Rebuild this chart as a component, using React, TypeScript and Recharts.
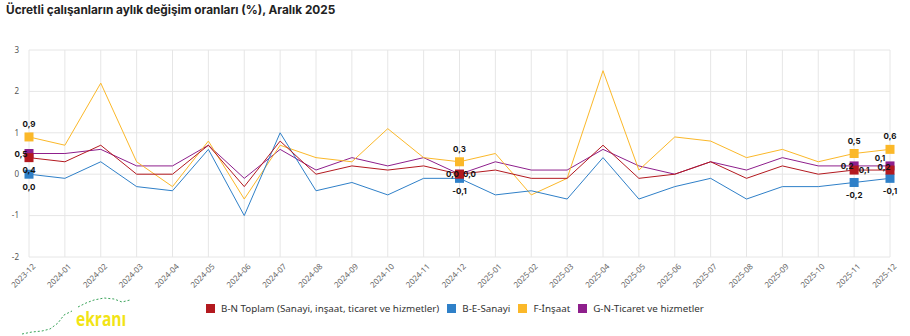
import React from 'react';
import { LineChart, Line, XAxis, YAxis, CartesianGrid, LabelList } from 'recharts';

const months = [
  '2023-12', '2024-01', '2024-02', '2024-03', '2024-04', '2024-05', '2024-06', '2024-07', '2024-08',
  '2024-09', '2024-10', '2024-11', '2024-12', '2025-01', '2025-02', '2025-03', '2025-04', '2025-05',
  '2025-06', '2025-07', '2025-08', '2025-09', '2025-10', '2025-11', '2025-12',
];

const toplam = [0.4, 0.3, 0.7, 0.0, 0.0, 0.7, -0.3, 0.8, 0.0, 0.2, 0.1, 0.2, 0.0, 0.1, -0.1, -0.1, 0.7, -0.1, 0.0, 0.3, -0.1, 0.2, 0.0, 0.1, 0.1];
const sanayi = [0.0, -0.1, 0.3, -0.3, -0.4, 0.6, -1.0, 1.0, -0.4, -0.2, -0.5, -0.1, -0.1, -0.5, -0.4, -0.6, 0.4, -0.6, -0.3, -0.1, -0.6, -0.3, -0.3, -0.2, -0.1];
const insaat = [0.9, 0.7, 2.2, 0.3, -0.3, 0.8, -0.6, 0.7, 0.4, 0.3, 1.1, 0.4, 0.3, 0.5, -0.5, -0.1, 2.5, 0.1, 0.9, 0.8, 0.4, 0.6, 0.3, 0.5, 0.6];
const ticaret = [0.5, 0.5, 0.6, 0.2, 0.2, 0.7, -0.1, 0.6, 0.1, 0.4, 0.2, 0.4, 0.0, 0.3, 0.1, 0.1, 0.6, 0.2, 0.0, 0.3, 0.1, 0.4, 0.2, 0.2, 0.2];

const yTicks = [-2, -1, 0, 1, 2, 3];
const markedIdx = [0, 12, 23, 24];

const data = months.map((m, i) => ({
  month: m,
  toplam: toplam[i],
  sanayi: sanayi[i],
  insaat: insaat[i],
  ticaret: ticaret[i],
}));

const series = [
  { key: 'ticaret', name: 'G-N-Ticaret ve hizmetler', color: '#8e1f8c' },
  { key: 'insaat', name: 'F-İnşaat', color: '#fbb829' },
  { key: 'sanayi', name: 'B-E-Sanayi', color: '#2f80c8' },
  { key: 'toplam', name: 'B-N Toplam (Sanayi, inşaat, ticaret ve hizmetler)', color: '#b3191f' },
];
const legendOrder = ['toplam', 'sanayi', 'insaat', 'ticaret'];

// label offsets for the marked points (roughly where the original puts them)
const labelPos: Record<string, Record<number, [number, number]>> = {
  insaat: { 0: [0, -13], 12: [0, -13], 23: [0, -13], 24: [0, -13] },
  sanayi: { 0: [0, 13], 12: [0, 13], 23: [0, 13], 24: [0, 13] },
  ticaret: { 0: [-8, 0], 12: [10, 0], 23: [-7, 0], 24: [-6, 1] },
  toplam: { 0: [0, 12], 12: [-7, 0], 23: [10, 0], 24: [-10, -12] },
};

const fmt = (v: number) => v.toFixed(1).replace('.', ',');

const SquareDot = (color: string) => (props: any) => {
  const { cx, cy, index } = props;
  if (!markedIdx.includes(index) || cx == null) return <g key={index} />;
  return <rect key={index} x={cx - 4.5} y={cy - 4.5} width={9} height={9} fill={color} />;
};

const renderLabel = (key: string) => (props: any) => {
  const { x, y, value, index } = props;
  if (!markedIdx.includes(index)) return null;
  const [dx, dy] = labelPos[key][index] || [0, -12];
  return (
    <text
      x={x + dx}
      y={y + dy}
      textAnchor="middle"
      dominantBaseline="central"
      fontSize={8}
      fontWeight={700}
      fontFamily="Inter, sans-serif"
      fill="#111"
    >
      {fmt(value)}
    </text>
  );
};

const MonthTick = (props: any) => {
  const { x, y, payload } = props;
  return (
    <g transform={`translate(${x + 3},${y - 2})`}>
      <text
        textAnchor="end"
        transform="rotate(-45)"
        fontSize={8}
        fill="#666"
        fontFamily="'Noto Sans', sans-serif"
        dy="0.7em"
      >
        {payload.value}
      </text>
    </g>
  );
};

export default function App() {
  return (
    <div style={{ position: 'absolute', left: 0, top: 0, width: 910, height: 336, background: '#fff', overflow: 'hidden' }}>
      <div
        style={{
          position: 'absolute',
          left: 6,
          top: 3,
          fontFamily: 'Inter, sans-serif',
          fontWeight: 700,
          fontSize: 11.8,
          color: '#222',
          whiteSpace: 'nowrap',
        }}
      >
        Ücretli çalışanların aylık değişim oranları (%), Aralık 2025
      </div>

      <LineChart width={910} height={336} data={data} margin={{ top: 50, right: 20, left: 9, bottom: 39 }}>
        <CartesianGrid stroke="#e6e6e6" strokeWidth={1} />
        <XAxis
          dataKey="month"
          interval={0}
          axisLine={false}
          tickLine={false}
          height={40}
          tick={<MonthTick />}
        />
        <YAxis
          domain={[-2, 3]}
          ticks={yTicks}
          width={20}
          axisLine={false}
          tickLine={false}
          tickMargin={4}
          tick={{ fontSize: 8, fill: '#555', fontFamily: "'Noto Sans', sans-serif" }}
        />
        {series.map((s) => (
          <Line
            key={s.key}
            type="linear"
            dataKey={s.key}
            name={s.name}
            stroke={s.color}
            strokeWidth={1}
            dot={SquareDot(s.color)}
            activeDot={false}
            isAnimationActive={false}
          >
            <LabelList dataKey={s.key} content={renderLabel(s.key)} />
          </Line>
        ))}
      </LineChart>

      {/* legend */}
      <div
        style={{
          position: 'absolute',
          left: 0,
          width: 910,
          top: 302,
          display: 'flex',
          justifyContent: 'center',
          gap: 8,
          fontFamily: "'Noto Sans', sans-serif",
          fontSize: 9.8,
          color: '#333',
          paddingLeft: 0,
        }}
      >
        {legendOrder.map((k) => {
          const s = series.find((x) => x.key === k)!;
          return (
            <div key={k} style={{ display: 'flex', alignItems: 'center', gap: 6 }}>
              <span style={{ width: 9, height: 9, background: s.color, display: 'inline-block' }} />
              <span>{s.name}</span>
            </div>
          );
        })}
      </div>

      {/* logo */}
      <svg style={{ position: 'absolute', left: 20, top: 305 }} width={55} height={31}>
        <polyline
          points="2,29 12,27 22,26 30,24 38,18 44,10 52,6"
          fill="none"
          stroke="#3aa35a"
          strokeWidth={1}
          strokeDasharray="2 2"
        />
      </svg>
      <div
        style={{
          position: 'absolute',
          left: 76,
          top: 306,
          fontFamily: "'Open Sans', sans-serif",
          fontWeight: 700,
          fontSize: 19,
          color: '#f2e414',
          transform: 'scaleX(0.82)',
          transformOrigin: 'left top',
        }}
      >
        ekranı
      </div>
      <svg style={{ position: 'absolute', left: 76, top: 295 }} width={60} height={14}>
        <polyline
          points="2,12 10,8 18,5 28,3 38,4 46,7 54,5"
          fill="none"
          stroke="#3aa35a"
          strokeWidth={1}
          strokeDasharray="2 2"
        />
      </svg>
    </div>
  );
}
